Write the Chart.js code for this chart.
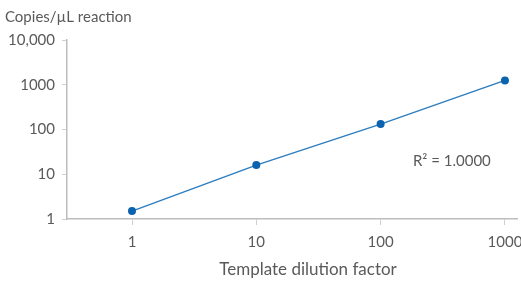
<!DOCTYPE html>
<html>
<head>
<meta charset="utf-8">
<script src="https://cdn.jsdelivr.net/npm/chart.js@4.4.0/dist/chart.umd.min.js"></script>
<style>
  html, body { margin: 0; padding: 0; background: #fff; }
  #wrap { width: 521px; height: 283px; position: relative; }
</style>
</head>
<body>
<div id="wrap"><canvas id="stdCurve"></canvas></div>
<script>
// dilution factors and measured copies / uL
var dilution = [1, 10, 100, 1000];
var copies = [1.5, 16, 132, 1250];

var xTicks = [1, 10, 100, 1000];
var xTickLabels = ['1', '10', '100', '1000'];
var yTicks = [1, 10, 100, 1000, 10000];
var yTickLabels = ['1', '10', '100', '1000', '10,000'];

var yTitle = 'Copies/\u00b5L reaction';
var xTitle = 'Template dilution factor';
var fitLabel = 'R\u00b2 = 1.0000';

var FONT = 'Lato, "Noto Sans", sans-serif';
var TXT = '#5a5a5a';

// draws the axis titles and the R2 note
var extraText = {
  id: 'extraText',
  afterDraw: function (chart) {
    var ctx = chart.ctx;
    var xs = chart.scales.x, ys = chart.scales.y;
    ctx.save();
    ctx.fillStyle = TXT;
    ctx.textBaseline = 'middle';
    ctx.textAlign = 'left';
    ctx.font = '15px ' + FONT;
    ctx.fillText(yTitle, 5, 17);
    ctx.fillText(fitLabel, xs.getPixelForValue(182), ys.getPixelForValue(20));
    ctx.font = '17px ' + FONT;
    ctx.textAlign = 'center';
    ctx.fillText(xTitle, 308, 270);
    ctx.restore();
  }
};

var pts = dilution.map(function (d, i) { return { x: d, y: copies[i] }; });

var ctx = document.getElementById('stdCurve').getContext('2d');
var myChart = new Chart(ctx, {
  type: 'scatter',
  data: {
    datasets: [{
      data: pts,
      showLine: true,
      borderColor: '#2d7dbf',
      borderWidth: 1.5,
      backgroundColor: '#0b62ae',
      pointBackgroundColor: '#0b62ae',
      pointBorderWidth: 0,
      pointRadius: 4
    }]
  },
  options: {
    responsive: true,
    maintainAspectRatio: false,
    animation: false,
    layout: { padding: { top: 40, right: 0, left: 0, bottom: 0 } },
    plugins: {
      legend: { display: false },
      tooltip: { enabled: false }
    },
    scales: {
      x: {
        type: 'logarithmic',
        min: 0.305,
        max: 1250,
        afterBuildTicks: function (s) { s.ticks = xTicks.map(function (v) { return { value: v }; }); },
        afterFit: function (s) { s.height = 64; s.paddingRight = 0; s.paddingLeft = 0; },
        border: { color: '#bdbdbd', width: 1.5 },
        grid: { drawOnChartArea: false, color: '#d0d0d0', tickLength: 6 },
        ticks: {
          color: TXT,
          font: { family: FONT, size: 15 },
          padding: 8,
          autoSkip: false,
          maxRotation: 0,
          callback: function (v) { var i = xTicks.indexOf(v); return i < 0 ? '' : xTickLabels[i]; }
        }
      },
      y: {
        type: 'logarithmic',
        min: 1,
        max: 10000,
        afterBuildTicks: function (s) { s.ticks = yTicks.map(function (v) { return { value: v }; }); },
        afterFit: function (s) { s.width = 67; },
        border: { color: '#bdbdbd', width: 1.5 },
        grid: { drawOnChartArea: false, color: '#d0d0d0', tickLength: 5 },
        ticks: {
          color: TXT,
          font: { family: FONT, size: 15 },
          padding: 7,
          autoSkip: false,
          callback: function (v) { var i = yTicks.indexOf(v); return i < 0 ? '' : yTickLabels[i]; }
        }
      }
    }
  },
  plugins: [extraText]
});
</script>
</body>
</html>
